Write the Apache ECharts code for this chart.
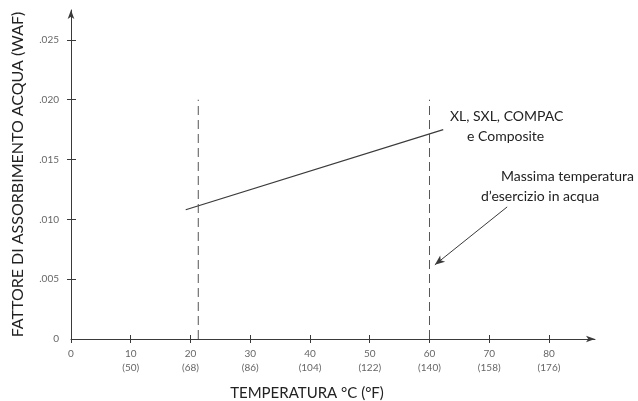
<!DOCTYPE html>
<html><head><meta charset="utf-8">
<script src="https://cdn.jsdelivr.net/npm/echarts@6/dist/echarts.min.js"></script>
<style>html,body{margin:0;padding:0;background:#fff}#c{width:638px;height:401px}</style>
</head><body><div id="c"></div>
<script>
// Data
const xTicks = [0, 10, 20, 30, 40, 50, 60, 70, 80];
const xTickF = ['', '(50)', '(68)', '(86)', '(104)', '(122)', '(140)', '(158)', '(176)'];
const yTicks = [0, 0.005, 0.010, 0.015, 0.020, 0.025];
const yTickLabels = ['0', '.005', '.010', '.015', '.020', '.025'];
const wafTemp = [19.2, 62.3];
const wafValue = [0.0108, 0.0175];
const limitTemps = [21.3, 60];
const limitTop = 0.020;

const FONT = 'Lato';
const xMin = 0, xMax = 87.7, yMin = 0, yMax = 0.0275;

const chart = echarts.init(document.getElementById('c'), null, {renderer: 'canvas'});
const lineColor = '#3a3a3a';

const xLabelMap = {};
xTicks.forEach((t, i) => { xLabelMap[t] = xTickF[i] ? t + '\n' + xTickF[i] : String(t); });
const yLabelMap = {};
yTicks.forEach((t, i) => { yLabelMap[t.toFixed(3)] = yTickLabels[i]; });

const option = {
  animation: false,
  backgroundColor: '#fff',
  grid: {left: 71, right: 638 - 595, top: 10, bottom: 401 - 339, containLabel: false, outerBoundsMode: 'none'},
  xAxis: [{
    type: 'value', min: xMin, max: xMax, position: 'bottom',
    name: 'TEMPERATURA °C (°F)', nameLocation: 'middle', nameGap: 47,
    nameTextStyle: {fontFamily: FONT, fontSize: 15, color: '#222', padding: [0, 52, 0, 0]},
    splitLine: {show: false},
    axisLine: {show: true, lineStyle: {color: lineColor, width: 1}, symbol: ['none', 'arrow'], symbolSize: [5, 9]},
    axisTick: {show: true, length: 4, customValues: xTicks, lineStyle: {color: lineColor}},
    axisLabel: {customValues: xTicks, margin: 8, fontFamily: FONT, fontSize: 10, color: '#666', lineHeight: 14,
      formatter: v => xLabelMap[Math.round(v)] || ''}
  }, {
    type: 'value', min: xMin, max: xMax, position: 'bottom',
    splitLine: {show: false}, axisLine: {show: false},
    axisTick: {show: true, inside: true, length: 4, customValues: xTicks.slice(1), lineStyle: {color: lineColor}},
    axisLabel: {show: false}
  }],
  yAxis: [{
    type: 'value', min: yMin, max: yMax, position: 'left',
    name: 'FATTORE DI ASSORBIMENTO ACQUA (WAF)', nameLocation: 'middle', nameGap: 45, nameRotate: 90,
    nameTextStyle: {fontFamily: FONT, fontSize: 16, color: '#222'},
    splitLine: {show: false},
    axisLine: {show: true, lineStyle: {color: lineColor, width: 1}, symbol: ['none', 'arrow'], symbolSize: [5, 9]},
    axisTick: {show: true, length: 4, customValues: yTicks.slice(1), lineStyle: {color: lineColor}},
    axisLabel: {customValues: yTicks, margin: 12, fontFamily: FONT, fontSize: 10, color: '#666',
      formatter: v => yLabelMap[v.toFixed(3)] || ''}
  }, {
    type: 'value', min: yMin, max: yMax, position: 'left',
    splitLine: {show: false}, axisLine: {show: false},
    axisTick: {show: true, inside: true, length: 5, customValues: yTicks.slice(1), lineStyle: {color: lineColor}},
    axisLabel: {show: false}
  }],
  series: [
    {
      type: 'line', xAxisIndex: 0, yAxisIndex: 0, symbol: 'none', silent: true,
      data: wafTemp.map((t, i) => [t, wafValue[i]]),
      lineStyle: {color: lineColor, width: 1.2},
      markLine: {
        silent: true, symbol: ['none', 'arrow'], symbolSize: [6, 10],
        lineStyle: {color: lineColor, width: 1, type: 'solid'}, label: {show: false},
        data: [[{coord: [73.0, 0.01104]}, {coord: [60.9, 0.0062]}]]
      }
    },
    ...limitTemps.map(t => ({
      type: 'line', xAxisIndex: 0, yAxisIndex: 0, symbol: 'none', silent: true,
      data: [[t, 0], [t, limitTop]],
      lineStyle: {color: '#555', width: 1, type: [9, 5]}
    }))
  ],
  graphic: [
    {type: 'text', left: 450, top: 109, style: {text: 'XL, SXL, COMPAC', font: '14px ' + FONT, fill: '#222'}},
    {type: 'text', left: 467, top: 129, style: {text: 'e Composite', font: '14px ' + FONT, fill: '#222'}},
    {type: 'text', right: 4, top: 169, style: {text: 'Massima temperatura', font: '14px ' + FONT, fill: '#222'}},
    {type: 'text', left: 481, top: 189, style: {text: 'd\u2019esercizio in acqua', font: '14px ' + FONT, fill: '#222'}}
  ]
};
chart.setOption(option);
</script></body></html>
